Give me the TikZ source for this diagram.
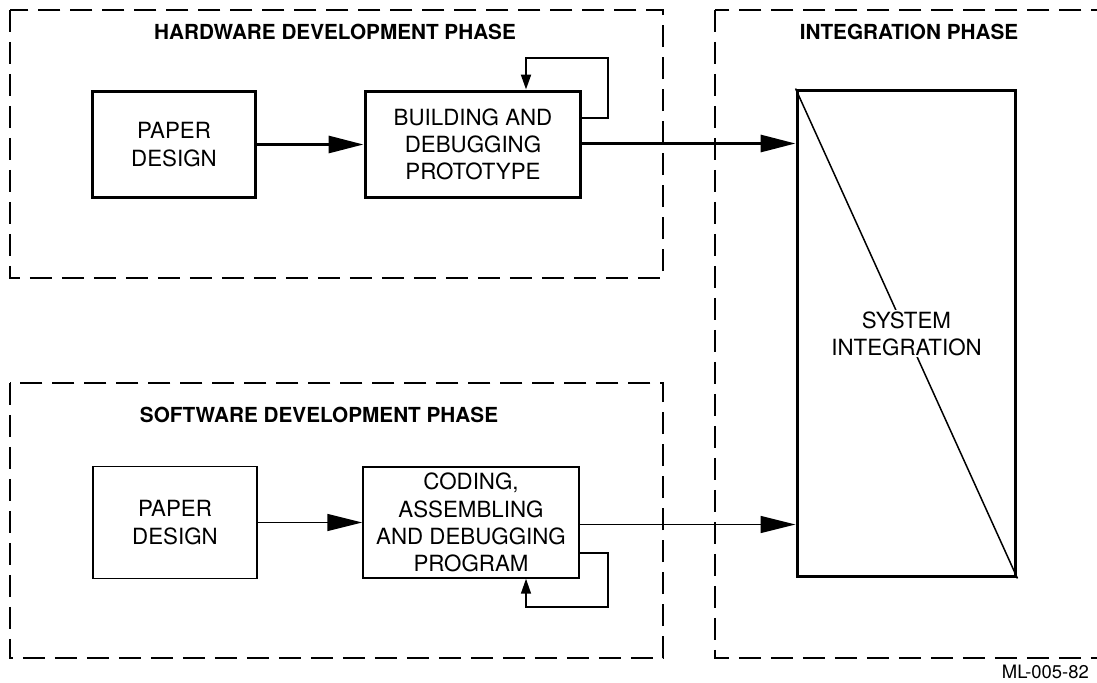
\documentclass[tikz,border=0pt]{standalone}
\usepackage{fontspec}
\setmainfont{TeX Gyre Heros}
\usepackage{tikz}
\usetikzlibrary{arrows.meta}
\usetikzlibrary{positioning}

\begin{document}
\begin{tikzpicture}[x=0.02cm, y=-0.02cm,
		phaseFrame/.style={draw, line width=0.03cm, dash pattern=on 0.44cm off 0.2cm},
		phaseTitle/.style={font=\bfseries\fontsize{11.8}{14}\selectfont},
		boxText/.style={align=center, font=\fontsize{12.7}{15.5}\selectfont},
		hwBox/.style={boxText, draw, line width=0.06cm, minimum width=3.28cm, minimum height=2.14cm},
		swBox/.style={boxText, draw, line width=0.03cm, minimum width=3.28cm, minimum height=2.24cm},
		hwArrow/.style={line width=0.06cm, -{Triangle[length=0.7cm, width=0.34cm]}},
		swArrow/.style={line width=0.03cm, -{Triangle[length=0.7cm, width=0.34cm]}},
		loopArrow/.style={line width=0.04cm, -{Triangle[length=0.3cm, width=0.2cm]}}]
			\useasboundingbox (0,0) rectangle (1097,682);

			% Phase frames
			\draw[phaseFrame] (10,10) rectangle (663,278);
			\draw[phaseFrame] (10,383) rectangle (663,658);
			\draw[phaseFrame] (715,10) rectangle (1098,658);

			\node[phaseTitle] (hwTitle) at (335,32) {HARDWARE DEVELOPMENT PHASE};
			\node[phaseTitle] (intTitle) at (909,32) {INTEGRATION PHASE};
			\node[phaseTitle] (swTitle) at (319,415) {SOFTWARE DEVELOPMENT PHASE};

			% Hardware
			\node[hwBox] (hwPaper) at (174,144.5) {PAPER\\DESIGN};
			\node[hwBox, minimum width=4.32cm] (hwBuild) at (473,144.5) {BUILDING AND\\DEBUGGING\\PROTOTYPE};

			% Software
			\node[swBox] (swPaper) at (175,522.5) {PAPER\\DESIGN};
			\node[swBox, minimum width=4.32cm, minimum height=2.22cm] (swCode) at (471,522.5) {CODING,\\ASSEMBLING\\AND DEBUGGING\\PROGRAM};

			% Integration
			\node[hwBox, minimum width=4.38cm, minimum height=9.74cm] (sysInt) at (906.5,333.5) {};
			\draw[line width=0.03cm] (sysInt.north west) -- (sysInt.south east);
			\node[boxText, fill=white, inner sep=1pt] (sysIntText) at (sysInt) {SYSTEM\\INTEGRATION};

			\draw[hwArrow] (hwPaper) -- (hwBuild);
			\draw[hwArrow] (hwBuild.east |- 0,143.5) -- (sysInt.west |- 0,143.5);
			\draw[loopArrow] (hwBuild.east |- 0,118) -| (608,58) -| (hwBuild.north -| 526,0);

			\draw[swArrow] (swPaper) -- (swCode);
			\draw[swArrow] (swCode.east |- 0,524.5) -- (sysInt.west |- 0,524.5);
			\draw[loopArrow, line width=0.03cm] (swCode.east |- 0,553) -| (608,607) -| (swCode.south -| 526,0);

			\node[anchor=base east, font=\fontsize{10.5}{12}\selectfont] (docLabel) at (1095,678) {ML-005-82};

		\end{tikzpicture}
\end{document}
